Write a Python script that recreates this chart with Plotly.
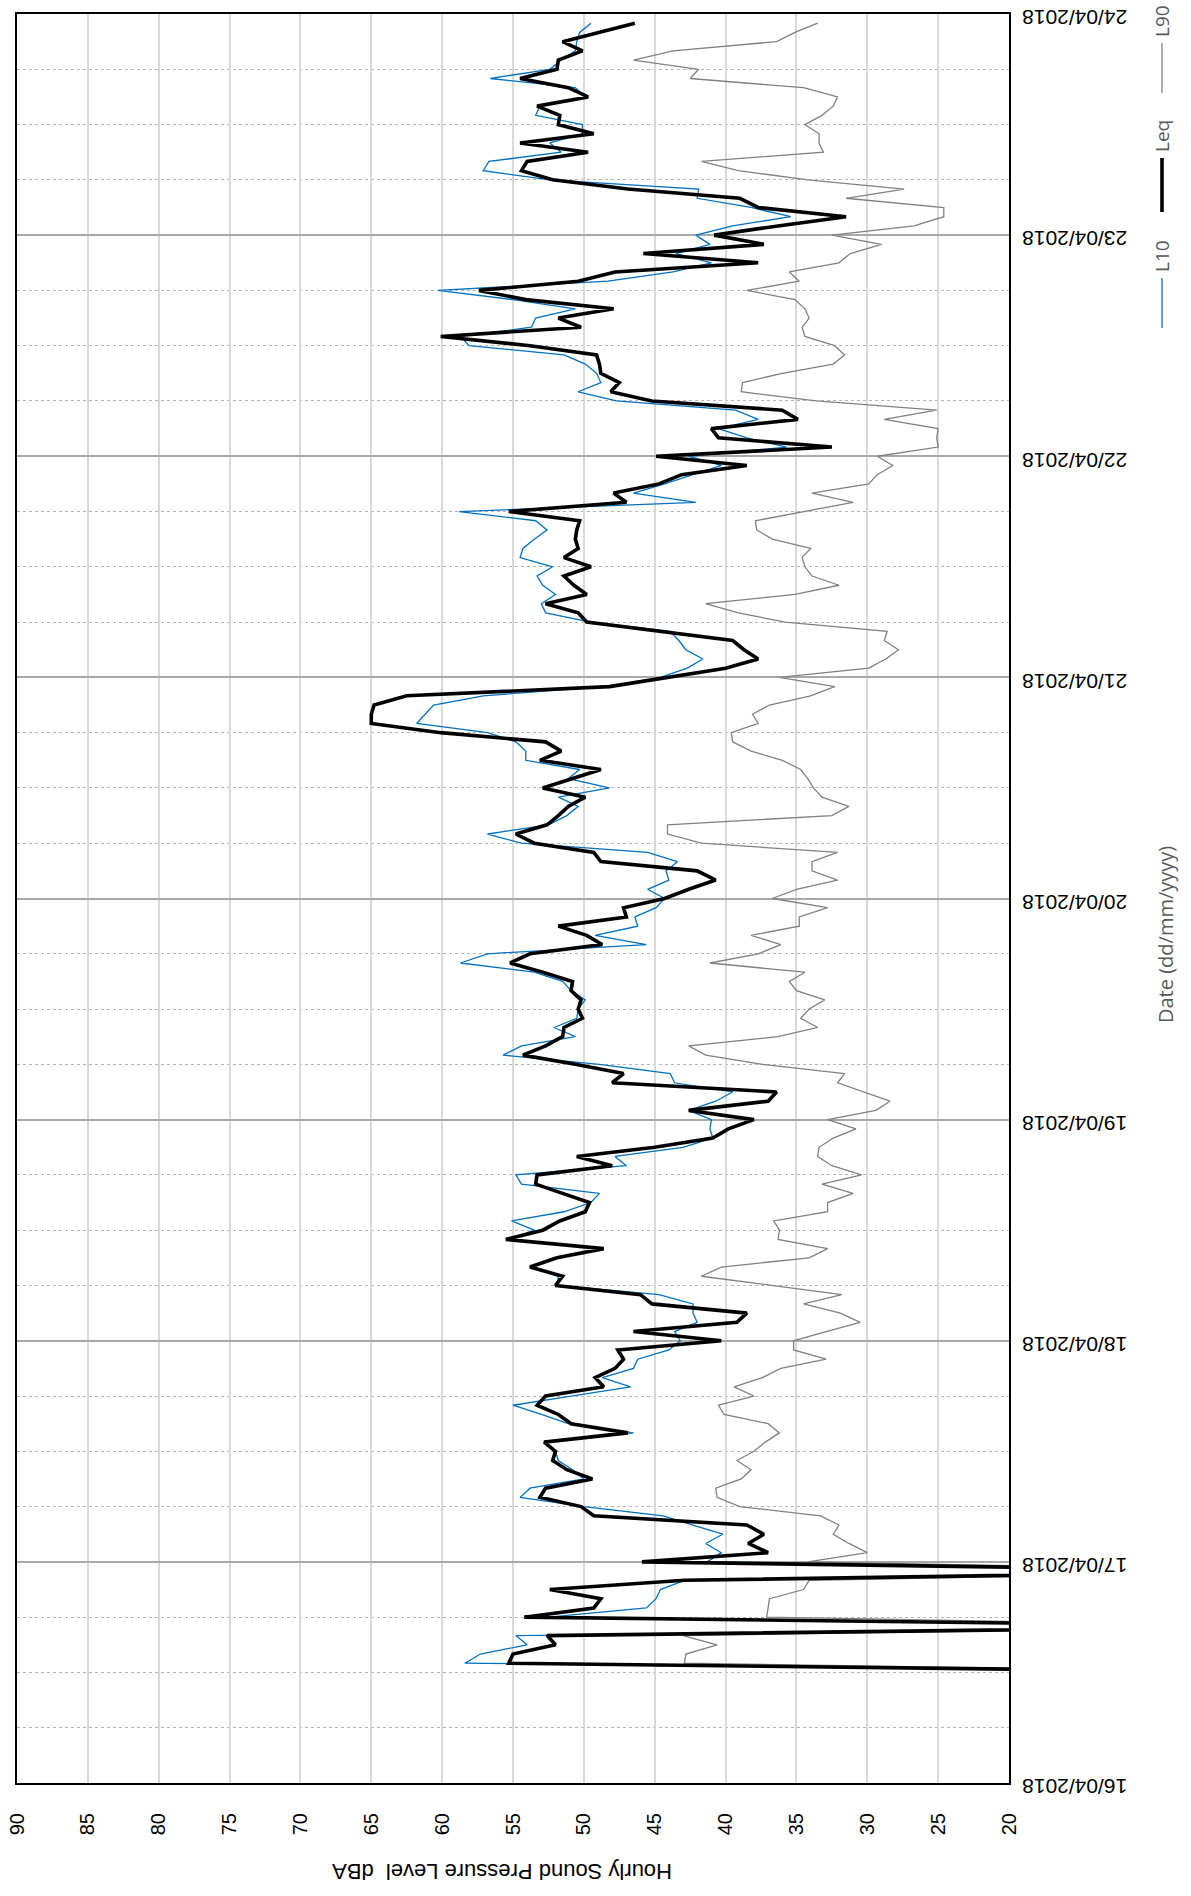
import pandas as pd
import plotly.graph_objects as go

# Hourly noise monitoring results, 16/04/2018 12:00 to 23/04/2018 23:00 (dBA)
leq = [
    # 16/04 12:00-23:00
    0, 55.3, 55.0, 52.0, 52.6, 0, 54.2, 49.3, 48.8, 52.4, 42.9, 0,
    # 17/04
    45.9, 37.0, 38.4, 37.3, 38.5, 49.3, 50.2, 53.1, 52.7, 49.4, 51.2, 52.2,
    52.0, 52.8, 46.9, 50.9, 51.8, 53.3, 52.7, 48.6, 49.2, 47.8, 47.2, 47.6,
    # 18/04
    40.3, 46.5, 39.2, 38.5, 45.2, 46.0, 52.0, 51.5, 53.8, 51.9, 48.6, 55.5,
    52.9, 51.7, 49.9, 49.6, 51.5, 53.4, 53.3, 48.0, 50.5, 45.0, 40.9, 39.8,
    # 19/04
    38.0, 42.6, 37.0, 36.4, 48.0, 47.2, 50.6, 54.3, 52.7, 51.5, 51.4, 50.1,
    50.4, 50.2, 50.9, 50.8, 52.9, 55.2, 53.8, 48.7, 49.8, 51.8, 47.0, 47.2,
    # 20/04
    44.3, 42.6, 40.7, 42.0, 48.8, 49.3, 53.5, 54.8, 52.6, 51.8, 51.1, 49.9,
    52.9, 50.9, 48.8, 53.1, 51.6, 52.7, 60.1, 65.0, 65.0, 64.8, 62.5, 48.2,
    # 21/04
    44.2, 40.0, 37.7, 38.7, 39.5, 44.6, 49.8, 50.4, 52.7, 49.8, 50.7, 51.4,
    49.5, 51.4, 50.4, 50.6, 50.5, 50.3, 55.3, 47.0, 47.9, 44.7, 43.1, 38.5,
    # 22/04
    44.9, 32.5, 40.5, 41.0, 34.9, 36.0, 45.2, 48.1, 47.5, 48.8, 48.9, 49.1,
    53.8, 60.1, 50.2, 51.8, 47.9, 54.1, 57.4, 50.4, 47.8, 37.7, 45.8, 37.3,
    # 23/04
    40.8, 36.3, 31.5, 37.7, 39.0, 46.9, 52.2, 54.4, 54.0, 49.7, 54.5, 49.3,
    51.8, 51.7, 53.3, 49.7, 51.1, 54.5, 51.9, 51.8, 50.1, 51.5, 48.9, 46.4,
]

l10 = [
    0, 58.4, 57.3, 54.0, 54.8, 0, 52.5, 45.6, 44.9, 44.6, 42.9, 0,
    41.3, 40.3, 41.4, 40.2, 42.3, 44.4, 50.0, 54.5, 53.8, 50.0, 50.8, 51.8,
    52.0, 52.7, 46.5, 51.1, 53.0, 55.0, 50.9, 46.7, 48.7, 46.5, 46.2, 44.0,
    43.2, 43.6, 42.0, 42.3, 42.3, 44.7, 51.9, 51.8, 53.8, 51.9, 48.8, 55.3,
    53.5, 55.1, 51.4, 49.5, 48.9, 54.4, 54.8, 47.0, 47.8, 43.0, 40.9, 41.1,
    41.0, 42.6, 40.7, 39.5, 43.6, 43.9, 48.9, 55.7, 54.4, 50.6, 52.1, 50.5,
    50.4, 49.9, 50.9, 51.5, 53.5, 58.7, 56.8, 45.6, 49.2, 46.2, 46.4, 44.9,
    44.3, 45.5, 44.0, 44.2, 43.4, 45.5, 54.4, 56.8, 52.5, 51.2, 50.4, 51.8,
    48.2, 51.1, 50.3, 54.1, 54.1, 54.8, 56.8, 61.8, 61.2, 60.6, 57.1, 48.5,
    44.6, 42.7, 41.6, 42.8, 43.3, 43.9, 49.5, 52.7, 53.0, 52.0, 52.9, 53.3,
    52.2, 54.5, 54.3, 53.5, 52.6, 53.4, 58.8, 42.1, 46.5, 44.3, 42.3, 40.3,
    42.6, 35.7, 38.5, 40.5, 37.7, 39.3, 47.7, 50.4, 48.8, 49.1, 49.9, 51.4,
    58.1, 58.7, 53.7, 53.4, 50.6, 55.0, 60.3, 48.3, 43.7, 41.0, 43.5, 41.1,
    42.1, 39.5, 35.4, 38.2, 42.0, 41.9, 52.4, 57.1, 56.7, 51.6, 52.4, 50.1,
    50.1, 53.4, 53.1, 49.9, 50.6, 56.6, 52.4, 51.6, 50.6, 50.5, 50.3, 49.5,
]

l90 = [
    0, 42.9, 42.8, 40.6, 43.0, 0, 37.1, 37.0, 36.9, 34.5, 34.1, 0,
    34.2, 30.0, 31.3, 32.4, 32.0, 33.3, 39.0, 40.6, 40.7, 38.9, 38.2, 39.2,
    38.0, 37.2, 36.2, 37.0, 40.1, 40.5, 38.0, 39.4, 37.4, 36.1, 32.9, 35.2,
    35.2, 32.9, 30.5, 31.9, 34.5, 31.8, 36.8, 41.7, 40.3, 34.1, 32.8, 36.3,
    36.2, 36.6, 32.8, 32.8, 31.0, 33.2, 30.4, 32.5, 33.5, 33.4, 32.4, 30.8,
    32.8, 29.4, 28.4, 30.2, 32.1, 31.6, 37.4, 41.4, 42.6, 36.3, 33.5, 34.7,
    34.1, 33.0, 35.0, 35.5, 34.4, 41.1, 37.7, 36.1, 38.2, 34.8, 34.8, 32.8,
    36.7, 35.0, 32.1, 33.9, 33.9, 32.1, 41.7, 44.1, 44.1, 32.5, 31.3, 33.2,
    33.8, 34.2, 34.7, 36.0, 38.2, 39.5, 39.6, 37.7, 38.1, 36.9, 34.0, 32.3,
    36.2, 29.9, 28.7, 27.8, 28.8, 28.6, 35.8, 39.1, 41.4, 35.1, 32.0, 33.9,
    34.4, 34.6, 34.0, 36.7, 37.8, 37.9, 34.5, 31.0, 33.9, 29.9, 29.3, 28.2,
    29.3, 25.0, 25.1, 25.0, 28.8, 25.1, 33.6, 38.9, 38.8, 36.0, 32.4, 31.6,
    32.3, 34.4, 34.6, 34.1, 34.4, 35.1, 38.5, 34.8, 35.5, 32.0, 31.2, 29.0,
    32.5, 26.7, 24.6, 24.6, 31.5, 27.4, 34.2, 39.1, 41.7, 33.1, 33.4, 33.4,
    34.4, 33.2, 32.4, 32.1, 34.5, 42.5, 41.9, 46.5, 43.7, 36.4, 35.1, 33.5,
]

first_hour = "2018-04-16 12:00"
times = pd.date_range(first_hour, periods=len(leq), freq="h")

date_range = ["2018-04-16 00:00:00", "2018-04-24 00:00:00"]
day_ticks = pd.date_range("2018-04-16", "2018-04-24", freq="D")
day_labels = [d.strftime("%d/%m/%Y") for d in day_ticks]
level_ticks = list(range(20, 95, 5))

COL_L10 = "#0070c0"
COL_LEQ = "#000000"
COL_L90 = "#808080"
TEXT_GREY = "#595959"

W, H = 1191, 1896
PL, PR, PT, PB = 17, 1009, 14, 1783   # plot area in pixels


def fx(px):
    return (px - PL) / (PR - PL)


def fy(py):
    return (PB - py) / (PB - PT)


fig = go.Figure()
fig.add_trace(go.Scatter(x=l90, y=times, mode="lines", name="L90",
                         line=dict(color=COL_L90, width=1.3)))
fig.add_trace(go.Scatter(x=l10, y=times, mode="lines", name="L10",
                         line=dict(color=COL_L10, width=1.3)))
fig.add_trace(go.Scatter(x=leq, y=times, mode="lines", name="Leq",
                         line=dict(color=COL_LEQ, width=3.6)))

fig.update_layout(
    width=W, height=H,
    margin=dict(l=PL, r=W - PR, t=PT, b=H - PB),
    paper_bgcolor="white", plot_bgcolor="white",
    showlegend=False,
    font=dict(family="Liberation Sans, Arial, sans-serif", color="black"),
    xaxis=dict(
        range=[90, 20], tickvals=level_ticks, ticks="",
        tickangle=-90, tickfont=dict(size=20),
        ticklabelstandoff=20, automargin=False,
        showgrid=True, gridcolor="#d9d9d9", gridwidth=2,
        zeroline=False,
        showline=True, mirror=True, linecolor="black", linewidth=2,
    ),
    yaxis=dict(
        type="date", range=date_range, side="right",
        tickmode="array", tickvals=day_ticks, ticktext=day_labels,
        ticks="", tickangle=180, tickfont=dict(size=21),
        ticklabelstandoff=112, ticklabelshift=10,
        ticklabeloverflow="allow", automargin=False,
        showgrid=True, gridcolor="#a9a9a9", gridwidth=2,
        minor=dict(dtick=21600000, tick0="2018-04-16", showgrid=True,
                   gridcolor="#b5b5b5", griddash="dot", gridwidth=1),
        zeroline=False,
        showline=True, mirror=True, linecolor="black", linewidth=2,
    ),
)

annotations = [
    dict(text="Hourly Sound Pressure Level  dBA", textangle=180,
         x=fx(502), y=fy(1872), font=dict(size=22, color="black")),
    dict(text="Date (dd/mm/yyyy)", textangle=-90,
         x=fx(1165), y=fy(935), font=dict(family="Open Sans", size=20, color=TEXT_GREY)),
]

# legend drawn vertically on the right
legend_items = [
    ("L90", COL_L90, 1.3, 21, (43, 93)),
    ("Leq", COL_LEQ, 3.6, 136, (158, 212)),
    ("L10", COL_L10, 1.3, 256, (278, 328)),
]
shapes = []
for label, color, width, ty, (y0, y1) in legend_items:
    shapes.append(dict(type="line", xref="paper", yref="paper",
                       x0=fx(1162), x1=fx(1162), y0=fy(y0), y1=fy(y1),
                       line=dict(color=color, width=width)))
    annotations.append(dict(text=label, textangle=-90, x=fx(1162), y=fy(ty),
                            font=dict(family="Open Sans", size=19, color=TEXT_GREY)))

for a in annotations:
    a.update(xref="paper", yref="paper", showarrow=False,
             xanchor="center", yanchor="middle")

fig.update_layout(annotations=annotations, shapes=shapes)

fig.write_html("out.html")
